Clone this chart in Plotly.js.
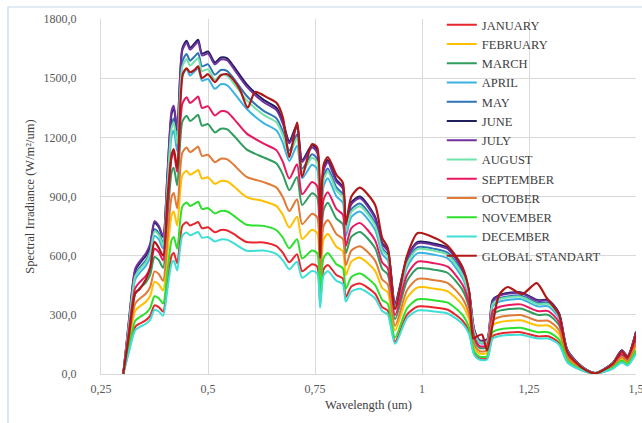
<!DOCTYPE html>
<html>
<head>
<meta charset="utf-8">
<script src="https://cdn.plot.ly/plotly-3.0.1.min.js"></script>
<style>
html,body{margin:0;padding:0;background:#fff;}
#chart{width:642px;height:423px;}
</style>
</head>
<body>
<div id="chart"></div>
<script>
// Wavelength (um) shared by the monthly series
const wavelength = [0.302,0.315,0.330,0.340,0.355,0.365,0.375,0.385,0.395,0.405,0.415,0.420,0.428,0.440,0.450,0.458,0.470,0.477,0.486,0.500,0.516,0.530,0.545,0.560,0.590,0.630,0.660,0.675,0.690,0.708,0.720,0.743,0.755,0.762,0.770,0.780,0.800,0.815,0.822,0.835,0.855,0.890,0.907,0.920,0.937,0.965,0.990,1.030,1.060,1.095,1.110,1.122,1.135,1.152,1.165,1.180,1.230,1.270,1.295,1.320,1.340,1.375,1.405,1.445,1.467,1.480,1.500];

const january   = [0,118,239,255,273,296,348,339,316,455,601,614,562,751,769,753,764,771,739,744,719,730,728,710,669,667,648,614,566,607,521,557,545,357,530,553,502,485,390,444,459,408,339,321,164,301,342,337,326,270,214,102,77,80,191,204,212,191,191,158,61,18,3,28,61,46,110];
const february  = [0,159,320,342,366,397,467,454,424,610,805,824,753,1007,1031,1010,1025,1034,991,997,964,979,976,952,897,876,851,806,743,797,684,731,715,459,681,711,645,622,501,570,590,524,436,413,220,386,439,432,419,347,275,137,104,107,246,262,272,246,246,203,79,23,3,36,79,59,141];
const march     = [0,202,407,434,465,504,593,577,539,775,1023,1046,957,1279,1310,1283,1302,1314,1259,1267,1225,1244,1240,1209,1139,1098,1067,1011,932,999,857,916,897,560,832,868,788,760,612,696,720,640,532,504,279,472,536,528,512,424,336,174,132,136,300,320,332,300,300,248,96,28,4,44,96,72,172];
const april     = [0,238,480,512,549,595,700,682,636,915,1208,1235,1130,1510,1546,1514,1537,1551,1487,1496,1446,1469,1464,1427,1345,1272,1235,1171,1080,1157,993,1061,1039,641,952,993,901,869,700,796,824,732,608,576,329,540,613,604,586,485,384,206,156,160,343,366,380,343,343,284,110,32,5,50,110,82,197];
const may       = [0,250,504,538,576,624,734,715,667,960,1267,1296,1186,1584,1622,1589,1613,1627,1560,1570,1517,1541,1536,1498,1411,1334,1296,1229,1133,1214,1042,1114,1090,672,998,1042,946,912,734,835,864,768,638,605,346,566,643,634,614,509,403,216,163,168,360,384,398,360,360,298,115,34,5,53,115,86,206];
const june      = [0,260,525,560,600,650,765,745,695,1000,1320,1350,1235,1650,1690,1655,1680,1695,1625,1635,1580,1605,1600,1560,1470,1390,1350,1280,1180,1265,1085,1160,1135,700,1040,1085,985,950,765,870,900,800,665,630,360,590,670,660,640,530,420,225,170,175,375,400,415,375,375,310,120,35,5,55,120,90,215];
const july      = [0,270,535,570,612,662,775,752,700,1010,1335,1360,1240,1640,1680,1645,1670,1685,1615,1625,1570,1595,1590,1548,1458,1378,1338,1268,1170,1252,1075,1148,1124,693,1030,1074,975,940,757,861,891,792,658,624,356,584,663,653,634,525,416,223,168,173,371,396,411,371,371,307,119,35,5,54,119,89,213];
const august    = [0,246,496,529,567,614,723,704,657,945,1247,1276,1167,1559,1597,1564,1588,1602,1536,1545,1493,1517,1512,1474,1389,1314,1276,1210,1115,1195,1025,1096,1073,662,983,1025,931,898,723,822,851,756,628,595,340,558,633,624,605,501,397,213,161,165,354,378,392,354,354,293,113,33,5,52,113,85,203];
const september = [0,216,436,465,498,540,635,618,577,830,1096,1121,1025,1370,1403,1374,1394,1407,1349,1357,1311,1332,1328,1295,1220,1168,1134,1075,991,1063,911,974,953,595,884,922,837,808,650,740,765,680,565,536,299,502,570,561,544,451,357,187,141,145,319,340,353,319,319,264,102,30,4,47,102,77,183];
const october   = [0,177,357,381,408,442,520,507,473,680,898,918,840,1122,1149,1125,1142,1153,1105,1112,1074,1091,1088,1061,1000,973,945,896,826,886,760,812,795,504,749,781,709,684,551,626,648,576,479,454,245,425,482,475,461,382,302,153,116,119,270,288,299,270,270,223,86,25,4,40,86,65,155];
const november  = [0,134,270,288,309,335,394,384,358,515,680,695,636,850,870,852,865,873,837,842,814,827,824,803,757,751,729,691,637,683,586,626,613,396,588,613,557,537,432,492,509,452,376,356,185,333,379,373,362,299,237,116,88,90,212,226,234,212,212,175,68,20,3,31,68,51,121];
const december  = [0,110,223,238,255,276,325,317,295,425,561,574,525,701,718,703,714,720,691,695,672,682,680,663,625,626,608,576,531,569,488,522,511,336,499,521,473,456,367,418,432,384,319,302,153,283,322,317,307,254,202,96,72,74,180,192,199,180,180,149,58,17,2,26,58,43,103];

// Global standard spectrum has its own wavelength sampling
const globalWavelength = [0.302,0.315,0.330,0.340,0.355,0.365,0.375,0.385,0.395,0.405,0.415,0.420,0.428,0.441,0.450,0.458,0.470,0.477,0.486,0.500,0.516,0.530,0.545,0.560,0.575,0.593,0.610,0.640,0.660,0.675,0.690,0.708,0.720,0.743,0.755,0.762,0.770,0.780,0.800,0.815,0.822,0.835,0.855,0.890,0.907,0.920,0.937,0.965,0.990,1.030,1.060,1.095,1.110,1.120,1.128,1.140,1.152,1.165,1.180,1.200,1.234,1.268,1.290,1.320,1.340,1.375,1.405,1.445,1.467,1.480,1.500];
const globalStandard = [0,190,410,430,480,540,670,640,600,880,1110,1140,1045,1520,1550,1530,1545,1560,1500,1520,1480,1515,1520,1490,1440,1350,1430,1400,1375,1300,1100,1275,1000,1165,1150,590,1060,1100,1010,970,760,900,945,860,690,640,330,600,715,690,650,540,420,180,190,200,120,250,400,441,405,461,390,300,110,30,3,50,115,85,205];

const seriesNames = ["JANUARY","FEBRUARY","MARCH","APRIL","MAY","JUNE","JULY","AUGUST","SEPTEMBER","OCTOBER","NOVEMBER","DECEMBER","GLOBAL STANDART"];
const seriesColors = ["#e8262d","#ffc000","#2e9d5e","#3ab3e3","#2e75b6","#1f1f5e","#7030a0","#70e3a8","#e8195e","#e07a36","#2ee02e","#3ddfd6","#b01818"];
const monthly = [january,february,march,april,may,june,july,august,september,october,november,december];

const xTickVals = [0.25,0.5,0.75,1,1.25,1.5];
const xTickText = ["0,25","0,5","0,75","1","1,25","1,5"];

const traces = monthly.map((ys,i)=>({
  x: wavelength, y: ys, type:'scatter', mode:'lines', name: seriesNames[i],
  line:{color:seriesColors[i], width:2, shape:'spline', smoothing:0.7}
}));
traces.push({
  x: globalWavelength, y: globalStandard, type:'scatter', mode:'lines', name: seriesNames[12],
  line:{color:seriesColors[12], width:2.2, shape:'spline', smoothing:0.7}
});

const fontFam = '"Liberation Serif", "Times New Roman", serif';
const layout = {
  width:642, height:423,
  margin:{l:101, r:6, t:19, b:49},
  paper_bgcolor:'#ffffff', plot_bgcolor:'#ffffff',
  separators:',.',
  font:{family:fontFam, color:'#404040', size:11},
  showlegend:true,
  legend:{x:0.637, xanchor:'left', y:1.025, yanchor:'top', bgcolor:'rgba(0,0,0,0)',
    font:{family:fontFam, size:12.5, color:'#404040'}, tracegroupgap:0, itemwidth:30,
    maxheight:400},
  xaxis:{range:[0.25,1.5], tickmode:'array', tickvals:xTickVals, ticktext:xTickText,
    showgrid:true, gridcolor:'#d9d9d9', gridwidth:1, zeroline:false,
    showline:true, linecolor:'#d9d9d9', linewidth:1, ticks:'', ticklabelstandoff:4,
    ticklabeloverflow:'allow',
    tickfont:{family:fontFam, size:12, color:'#595959'},
    title:{text:'Wavelength (um)', font:{family:fontFam, size:12.5, color:'#404040'}, standoff:4}},
  yaxis:{range:[0,1800], dtick:300, tick0:0, tickformat:'.1f',
    showgrid:true, gridcolor:'#d9d9d9', gridwidth:1, zeroline:false,
    showline:true, linecolor:'#d9d9d9', linewidth:1, ticks:'', ticklabelstandoff:21,
    tickfont:{family:fontFam, size:12, color:'#595959'},
    title:{text:'Spectral Irradiance (W/m²/um)', font:{family:fontFam, size:12.5, color:'#404040'}, standoff:6}},
  shapes:[{type:'rect', xref:'paper', yref:'paper',
    x0:(8-101)/535, x1:(660-101)/535, y0:(49-440)/355, y1:(416-49)/355,
    line:{color:'#c6d6ea', width:1.2}, fillcolor:'rgba(0,0,0,0)', layer:'below'}]
};
Plotly.newPlot('chart', traces, layout, {displayModeBar:false, staticPlot:true});
</script>
</body>
</html>
